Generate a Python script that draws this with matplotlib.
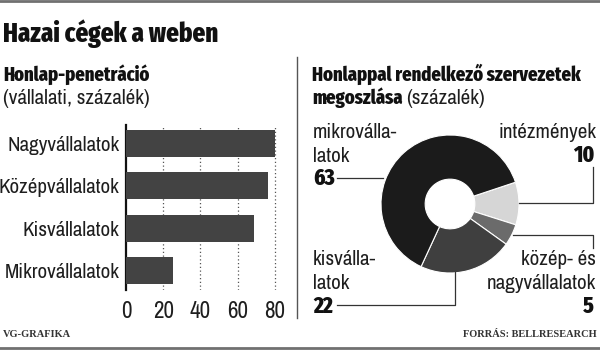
import matplotlib
matplotlib.use("Agg")
import matplotlib.pyplot as plt

# Bar chart data: website penetration by company size (%)
bar_labels = ["Nagyvállalatok", "Középvállalatok", "Kisvállalatok", "Mikrovállalatok"]
bar_values = [80, 76, 69, 25]
x_ticks = [0, 20, 40, 60, 80]

# Donut data: share of organisations with a website (%), clockwise from upper right
donut_names = ["intézmények", "közép- és nagyvállalatok", "kisvállalatok", "mikrovállalatok"]
donut_values = [10, 5, 22, 63]
donut_colors = ["#d6d6d6", "#6b6b6b", "#3f3f3f", "#1b1b1b"]

W, H = 600, 351
reg = ['Archivo Narrow', 'Liberation Sans', 'DejaVu Sans']
cond = ['Fira Sans Extra Condensed', 'Liberation Sans', 'DejaVu Sans']
serif = ['Liberation Serif', 'DejaVu Serif']
plt.rcParams['font.family'] = reg
ink = "#1e1e1e"
heavy = 800

fig = plt.figure(figsize=(W / 100, H / 100), dpi=100)
fig.patch.set_facecolor("white")
renderer = fig.canvas.get_renderer()

# overlay for text and rules, in pixel coordinates
ov = fig.add_axes([0, 0, 1, 1], zorder=5)
ov.set_xlim(0, W)
ov.set_ylim(H, 0)
ov.axis("off")
ov.patch.set_alpha(0)


def fit_size(text, family, weight, target, base=20.0):
    # font size that makes the text as wide as in the reference
    t = ov.text(0, 0, text, fontsize=base, family=family, fontweight=weight)
    w = t.get_window_extent(renderer).width
    t.remove()
    return base * target / w


def fx(px):
    return px / W


def fy(py):
    return 1 - py / H


size_title = fit_size("Hazai cégek a weben", cond, heavy, 215)
size_head = (fit_size("Honlap-penetráció", cond, heavy, 144)
             + fit_size("Honlappal rendelkező szervezetek", cond, heavy, 274)) / 2
size_reg = (fit_size("Nagyvállalatok", reg, "normal", 117)
            + fit_size("(vállalati, százalék)", reg, "normal", 140)) / 2
size_num = size_head * 1.15

# ---- bar chart ----
ax = fig.add_axes([fx(126), fy(290), fx(152.7), (290 - 125) / H])
pos = list(range(len(bar_values)))[::-1]
ax.barh(pos, bar_values, height=0.64, color="#434343", zorder=3)
ax.set_xlim(0, 82)
ax.set_ylim(-0.46, 3.44)
ax.set_xticks(x_ticks)
ax.set_xticklabels([str(t) for t in x_ticks], fontsize=size_reg * 1.1, color=ink)
ax.set_yticks(pos)
ax.set_yticklabels(bar_labels, fontsize=size_reg, color=ink)
ax.tick_params(length=0)
ax.tick_params(axis='x', pad=8)
ax.tick_params(axis='y', pad=4.5)
for t in x_ticks[1:]:
    ax.axvline(t, color="#555555", lw=0.9, ls=(0, (1, 2)), zorder=1)
for s in ["top", "right", "bottom"]:
    ax.spines[s].set_visible(False)
ax.spines["left"].set_linewidth(1.6)
ax.spines["left"].set_color("#111111")

# ---- donut ----
R = 69
cx, cy = 450, 204
dax = fig.add_axes([fx(cx - R), fy(cy + R), fx(2 * R), 2 * R / H])
dax.pie(donut_values, colors=donut_colors, startangle=18.4, counterclock=False,
        radius=1, wedgeprops=dict(width=0.64, edgecolor="white", linewidth=0.8))
dax.set_xlim(-1, 1)
dax.set_ylim(-1, 1)
dax.set_aspect("equal")
dax.axis("off")

# ---- rules ----
ov.plot([0, W], [1, 1], color="#707070", lw=2)
ov.plot([0, W], [348, 348], color="#707070", lw=2)
ov.plot([297, 297], [57, 318], color="#555555", lw=1)

# ---- headings ----
ov.text(3, 42, "Hazai cégek a weben", fontsize=size_title, fontweight=heavy,
        family=cond, color="#111111", va="baseline")
ov.text(3, 81, "Honlap-penetráció", fontsize=size_head, fontweight=heavy,
        family=cond, color="#111111", va="baseline")
ov.text(3, 104, "(vállalati, százalék)", fontsize=size_reg, color=ink, va="baseline")

ov.text(312, 81, "Honlappal rendelkező szervezetek", fontsize=size_head, fontweight=heavy,
        family=cond, color="#111111", va="baseline")
t_bold = ov.text(312, 104, "megoszlása", fontsize=size_head, fontweight=heavy,
                 family=cond, color="#111111", va="baseline")
bb = t_bold.get_window_extent(renderer)
ov.text(bb.x1 + 4, 104, "(százalék)", fontsize=size_reg, color=ink, va="baseline")

# ---- donut labels ----
lab = dict(fontsize=size_reg, color=ink, va="baseline")
num = dict(fontsize=size_num, fontweight=heavy, family=cond, color="#111111", va="baseline")
line = dict(color="#333333", lw=0.9)

ov.text(313, 138, "mikrovállа-".replace("а", "a"), **lab)
ov.text(313, 162, "latok", **lab)
ov.text(313, 185, str(donut_values[3]), **num)
ov.plot([337, 383], [178, 178], **line)

ov.text(596, 138, "intézmények", ha="right", **lab)
ov.text(594, 162, str(donut_values[0]), ha="right", **num)
ov.plot([593, 593, 519], [167, 203, 203], **line)

ov.text(313, 265, "kisvállа-".replace("а", "a"), **lab)
ov.text(313, 289, "latok", **lab)
ov.text(313, 313, str(donut_values[2]), **num)
ov.plot([337, 455, 455], [305, 305, 272], **line)

ov.text(596, 265, "közép- és", ha="right", **lab)
ov.text(596, 289, "nagyvállalatok", ha="right", **lab)
ov.text(594, 313, str(donut_values[1]), ha="right", **num)
ov.plot([513, 593, 593], [235, 235, 248], **line)

# ---- footer ----
ov.text(3, 337, "VG-GRAFIKA", fontsize=7.5, fontweight="bold", family=serif,
        color="#333333", va="baseline")
ov.text(597, 337, "FORRÁS: BELLRESEARCH", fontsize=7.5, fontweight="bold", family=serif,
        color="#333333", va="baseline", ha="right")

fig.savefig("out.png", dpi=100)
